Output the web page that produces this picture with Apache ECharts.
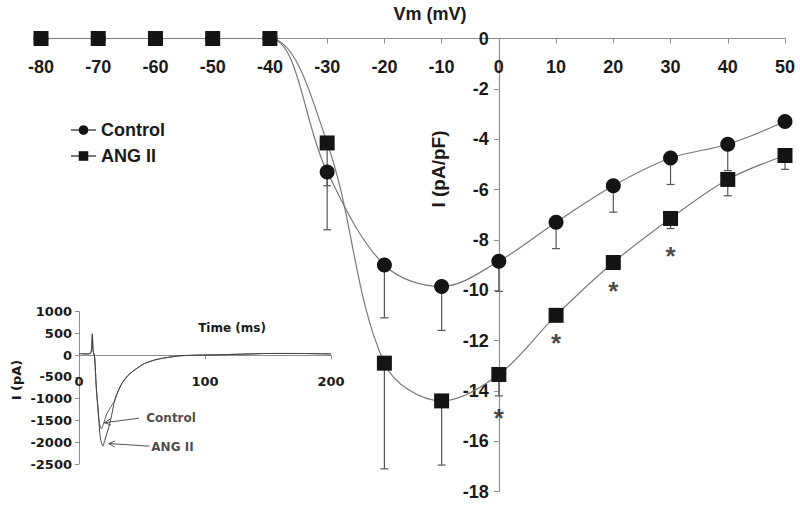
<!DOCTYPE html>
<html><head><meta charset="utf-8">
<script src="https://cdn.jsdelivr.net/npm/echarts@6/dist/echarts.min.js"></script>
<style>html,body{margin:0;padding:0;background:#fff}#c{width:800px;height:505px}</style>
</head><body><div id="c"></div>
<script>
// ---- Main I-V data ----
const vm = [-80,-70,-60,-50,-40,-30,-20,-10,0,10,20,30,40,50];
const control = [0,0,0,0,0,-5.3,-9.0,-9.85,-8.85,-7.3,-5.85,-4.75,-4.2,-3.3];
const controlErr = [0,0,0,0,0,2.3,2.1,1.75,1.2,1.05,1.05,1.05,1.05,0];
const angii = [0,0,0,0,0,-4.15,-12.9,-14.4,-13.35,-11.0,-8.9,-7.15,-5.6,-4.65];
const angiiErr = [0,0,0,0,0,1.7,4.2,2.55,0.85,0,0,0.4,0.65,0.55];
const sigX = [0,10,20,30];
const sigY = [-14.83,-11.86,-9.81,-8.4];
const xTicks = [-80,50,10];      // min, max, step
const yTicks = [-18,0,2];

// ---- Inset current traces ----
const tCtl = [0,5,9,10,10.6,11.2,12.4,13.7,15.6,16.5,17.7,19,20.5,22,25,28,30,34,39,45,52,60,65,79,92,110,130,150,175,200];
const iCtl = [40,30,40,150,490,100,-40,-730,-1420,-1600,-1690,-1620,-1480,-1350,-1200,-1060,-900,-650,-460,-320,-190,-110,-77,-16,0,10,25,40,40,30];
const tAng = [0,5,9,10,10.6,11.2,12.4,13.7,15.6,16.5,17.7,19,20.5,23,25.6,28,30,34,39,45,52,60,65,79,92,110,130,150,175,200];
const iAng = [40,30,40,150,490,100,-40,-730,-1420,-1800,-2000,-2090,-1950,-1720,-1420,-1080,-900,-650,-460,-320,-190,-110,-77,-16,0,10,25,40,40,30];
const insetX = [0,200,100];
const insetY = [-2500,1000,500];
const insetLabels = [[53.4,-1432,'Control'],[57.4,-2120,'ANG II']];
const insetArrows = [[47.6,-1448,20.2,-1552],[56,-2090,23.6,-2030]];

const FONT = '"Liberation Sans", Arial, sans-serif';
const IFONT = '"DejaVu Sans", sans-serif';
const TXT = '#1a1a1a';
const AX = '#8c8c8c';

// layout
const G0 = {left:41, right:15, top:38.5, bottom:13.5};
const G0W = 800 - G0.left - G0.right;
const yAxisOffset = -G0W * (0 - xTicks[0]) / (xTicks[1] - xTicks[0]); // put y axis at Vm = 0
const G1 = {left:79, top:311.7, width:252, height:152.3};
const xInsetOffset = -G1.height * (0 - insetY[0]) / (insetY[1] - insetY[0]); // put inset x axis at I = 0

function errItem(params, api){
  const x = api.value(0), y = api.value(1), lo = api.value(2);
  const p0 = api.coord([x,y]), p1 = api.coord([x,lo]);
  const w = 4;
  return {type:'group', children:[
    {type:'line', shape:{x1:p0[0],y1:p0[1],x2:p1[0],y2:p1[1]}, style:{stroke:'#555',lineWidth:1.2}},
    {type:'line', shape:{x1:p1[0]-w,y1:p1[1],x2:p1[0]+w,y2:p1[1]}, style:{stroke:'#555',lineWidth:1.2}}
  ]};
}
function arrowItem(params, api){
  const a = api.coord([api.value(0), api.value(1)]);
  const b = api.coord([api.value(2), api.value(3)]);
  const ang = Math.atan2(b[1]-a[1], b[0]-a[0]);
  const L = 7, s = 0.45;
  const h1 = [b[0]-L*Math.cos(ang-s), b[1]-L*Math.sin(ang-s)];
  const h2 = [b[0]-L*Math.cos(ang+s), b[1]-L*Math.sin(ang+s)];
  return {type:'group', children:[
    {type:'line', shape:{x1:a[0],y1:a[1],x2:b[0],y2:b[1]}, style:{stroke:'#555',lineWidth:1}},
    {type:'polyline', shape:{points:[h1,b,h2]}, style:{stroke:'#555',lineWidth:1,fill:null}}
  ]};
}

const ctlErrData = vm.map((x,i)=>[x, control[i], control[i]-controlErr[i]]).filter(d=>d[2]<d[1]);
const angErrData = vm.map((x,i)=>[x, angii[i], angii[i]-angiiErr[i]]).filter(d=>d[2]<d[1]);
const plain = v => String(v);

const chart = echarts.init(document.getElementById('c'), null, {renderer:'svg'});
chart.setOption({
  animation:false,
  backgroundColor:'#fff',
  grid:[
    Object.assign({containLabel:false, outerBoundsMode:'none'}, G0),
    Object.assign({containLabel:false, outerBoundsMode:'none'}, G1)
  ],
  xAxis:[
    {type:'value', gridIndex:0, min:xTicks[0], max:xTicks[1], interval:xTicks[2], position:'top',
     axisLine:{onZero:false, lineStyle:{color:AX, width:1.2}},
     axisTick:{show:true, inside:true, length:5, lineStyle:{color:AX}},
     splitLine:{show:false},
     axisLabel:{inside:true, margin:19, formatter:plain, color:TXT, fontFamily:FONT, fontWeight:'bold', fontSize:18}},
    {type:'value', gridIndex:1, min:insetX[0], max:insetX[1], interval:insetX[2], position:'bottom', offset:xInsetOffset,
     axisLine:{onZero:false, lineStyle:{color:AX, width:1}},
     axisTick:{show:true, length:4, lineStyle:{color:AX}},
     splitLine:{show:false},
     axisLabel:{margin:20, formatter:plain, color:TXT, fontFamily:IFONT, fontWeight:'bold', fontSize:13}}
  ],
  yAxis:[
    {type:'value', gridIndex:0, min:yTicks[0], max:yTicks[1], interval:yTicks[2], position:'left', offset:yAxisOffset,
     axisLine:{onZero:false, lineStyle:{color:AX, width:1.2}},
     axisTick:{show:true, length:5, lineStyle:{color:AX}},
     splitLine:{show:false},
     axisLabel:{margin:10, formatter:plain, color:TXT, fontFamily:FONT, fontWeight:'bold', fontSize:18}},
    {type:'value', gridIndex:1, min:insetY[0], max:insetY[1], interval:insetY[2], position:'left',
     axisLine:{onZero:false, lineStyle:{color:AX, width:1}},
     axisTick:{show:true, length:4, lineStyle:{color:AX}},
     splitLine:{show:false},
     axisLabel:{margin:7, formatter:plain, color:TXT, fontFamily:IFONT, fontWeight:'bold', fontSize:13}}
  ],
  legend:{
    data:['Control','ANG II'], orient:'vertical', left:65, top:116,
    itemWidth:25, itemHeight:12, itemGap:8,
    textStyle:{color:TXT, fontFamily:FONT, fontWeight:'bold', fontSize:18}
  },
  graphic:[
    {type:'text', x:430, y:14, style:{text:'Vm (mV)', align:'center', verticalAlign:'middle', font:'bold 18px "Liberation Sans", Arial', fill:TXT}},
    {type:'text', x:438, y:169, rotation:Math.PI/2, style:{text:'I (pA/pF)', align:'center', verticalAlign:'middle', font:'bold 19px "Liberation Sans", Arial', fill:TXT}},
    {type:'text', x:232, y:328, style:{text:'Time (ms)', align:'center', verticalAlign:'middle', font:'bold 12px "DejaVu Sans"', fill:TXT}},
    {type:'text', x:16, y:380, rotation:Math.PI/2, style:{text:'I (pA)', align:'center', verticalAlign:'middle', font:'bold 13px "DejaVu Sans"', fill:TXT}}
  ],
  series:[
    {type:'custom', name:'ctlErr', xAxisIndex:0, yAxisIndex:0, renderItem:errItem, data:ctlErrData, z:1, clip:false, silent:true},
    {type:'custom', name:'angErr', xAxisIndex:0, yAxisIndex:0, renderItem:errItem, data:angErrData, z:1, clip:false, silent:true},
    {type:'line', name:'Control', xAxisIndex:0, yAxisIndex:0, data:vm.map((x,i)=>[x,control[i]]),
     smooth:0.35, symbol:'circle', symbolSize:15, z:3,
     itemStyle:{color:'#141414'}, lineStyle:{color:'#7a7a7a', width:1.2}},
    {type:'line', name:'ANG II', xAxisIndex:0, yAxisIndex:0, data:vm.map((x,i)=>[x,angii[i]]),
     smooth:0.35, symbol:'rect', symbolSize:15, z:4,
     itemStyle:{color:'#141414'}, lineStyle:{color:'#7a7a7a', width:1.2}},
    {type:'scatter', name:'sig', xAxisIndex:0, yAxisIndex:0, data:sigX.map((x,i)=>[x,sigY[i]]),
     symbolSize:0, silent:true, z:5,
     label:{show:true, position:'inside', formatter:'*', offset:[0,6], color:TXT, fontFamily:FONT, fontWeight:'bold', fontSize:26}},
    {type:'line', name:'ctlTrace', xAxisIndex:1, yAxisIndex:1, data:tCtl.map((t,i)=>[t,iCtl[i]]),
     showSymbol:false, symbol:'none', smooth:0.2, lineStyle:{color:'#555', width:1}, z:2},
    {type:'line', name:'angTrace', xAxisIndex:1, yAxisIndex:1, data:tAng.map((t,i)=>[t,iAng[i]]),
     showSymbol:false, symbol:'none', smooth:0.2, lineStyle:{color:'#444', width:1}, z:2},
    {type:'custom', name:'arrows', xAxisIndex:1, yAxisIndex:1, renderItem:arrowItem, data:insetArrows, clip:false, silent:true, z:3},
    {type:'scatter', name:'insetText', xAxisIndex:1, yAxisIndex:1, data:insetLabels, symbolSize:0, silent:true,
     label:{show:true, position:'right', distance:0, formatter:p=>p.value[2], color:TXT, fontFamily:IFONT, fontWeight:'bold', fontSize:12}}
  ]
});
</script></body></html>
